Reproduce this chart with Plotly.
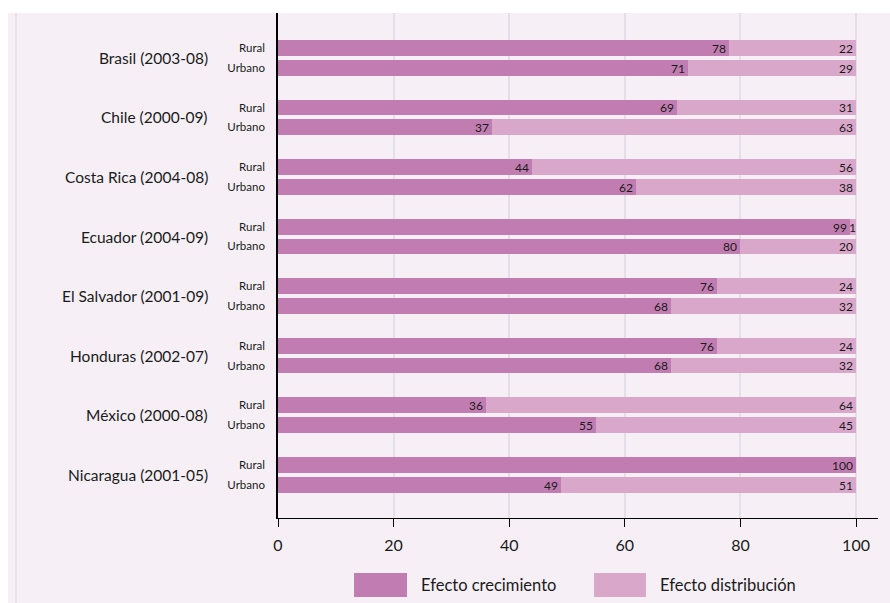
import plotly.graph_objects as go

# Decomposition of poverty change: growth vs distribution effect (%)
countries = [
    "Brasil (2003-08)", "Chile (2000-09)", "Costa Rica (2004-08)",
    "Ecuador (2004-09)", "El Salvador (2001-09)", "Honduras (2002-07)",
    "México (2000-08)", "Nicaragua (2001-05)",
]
areas = ["Rural", "Urbano"]

growth_rural = [78, 69, 44, 99, 76, 76, 36, 100]
growth_urban = [71, 37, 62, 80, 68, 68, 55, 49]
distrib_rural = [22, 31, 56, 1, 24, 24, 64, 0]
distrib_urban = [29, 63, 38, 20, 32, 32, 45, 51]

x_ticks = [0, 20, 40, 60, 80, 100]
legend_names = ["Efecto crecimiento", "Efecto distribución"]

C_GROWTH = "#C17DB1"
C_DISTR = "#D9A7CA"
BG = "#F6F0F6"
FONT = "Lato"
TXT = "#1a1a1a"

# one row per country/area, country blocks spaced 3 units apart
ypos, growth, distrib, ticktext = [], [], [], []
for i in range(len(countries)):
    ypos += [3 * i, 3 * i + 1]
    growth += [growth_rural[i], growth_urban[i]]
    distrib += [distrib_rural[i], distrib_urban[i]]
    ticktext += areas

fig = go.Figure()
for vals, color, name in [(growth, C_GROWTH, legend_names[0]),
                          (distrib, C_DISTR, legend_names[1])]:
    fig.add_trace(go.Bar(
        x=vals, y=ypos, orientation="h", name=name,
        marker=dict(color=color, line=dict(width=0)),
        width=0.8,
        text=[str(v) for v in vals],
        textposition="inside", insidetextanchor="end",
        textangle=0, constraintext="none",
        textfont=dict(family=FONT, size=12, color=TXT),
        cliponaxis=False,
        showlegend=False,
    ))

annotations = []
for i, c in enumerate(countries):
    annotations.append(dict(
        x=0, xref="paper", xanchor="right", xshift=-68,
        y=3 * i + 0.5, yref="y", yanchor="middle",
        text=c, showarrow=False,
        font=dict(family=FONT, size=15.5, color=TXT),
    ))

shapes = [
    # background panel
    dict(type="rect", xref="paper", yref="paper", x0=-0.45, x1=1.03,
         y0=-0.2, y1=1.0, fillcolor=BG, line=dict(width=0), layer="below"),
    dict(type="line", xref="paper", yref="paper", x0=-0.4367, x1=-0.4367,
         y0=-0.2, y1=1.0, line=dict(color="#E4E0E8", width=1.5), layer="below"),
]

# legend swatches and labels
for (x0, x1, xt), color, name in [((0.1267, 0.215, 0.235), C_GROWTH, legend_names[0]),
                                  ((0.5267, 0.6133, 0.6333), C_DISTR, legend_names[1])]:
    shapes.append(dict(type="rect", xref="paper", yref="paper",
                       x0=x0, x1=x1, y0=-0.1564, y1=-0.1089,
                       fillcolor=color, line=dict(width=0)))
    annotations.append(dict(
        x=xt, xref="paper", xanchor="left", y=-0.1327, yref="paper",
        yanchor="middle", text=name, showarrow=False,
        font=dict(family=FONT, size=16.5, color=TXT),
    ))

fig.update_layout(
    barmode="stack",
    width=890, height=603,
    margin=dict(l=278, r=12, t=13, b=85),
    paper_bgcolor="white",
    plot_bgcolor="rgba(0,0,0,0)",
    font=dict(family=FONT, color=TXT),
    shapes=shapes,
    annotations=annotations,
    bargap=0,
)
fig.update_xaxes(
    range=[0, 103.8], tickvals=x_ticks,
    showgrid=True, gridcolor="#E3DFE7", gridwidth=2,
    zeroline=False, showline=True, linecolor="black", linewidth=1,
    ticks="outside", ticklen=8, tickcolor="black", ticklabelstandoff=5,
    tickfont=dict(family=FONT, size=16, color=TXT),
)
fig.update_yaxes(
    range=[23.68, -1.76], tickvals=ypos, ticktext=ticktext,
    showgrid=False, zeroline=False, showline=True, linecolor="black",
    linewidth=1.5, ticks="", ticklabelstandoff=9,
    tickfont=dict(family=FONT, size=11.5, color=TXT),
)

fig.write_html("out.html")
